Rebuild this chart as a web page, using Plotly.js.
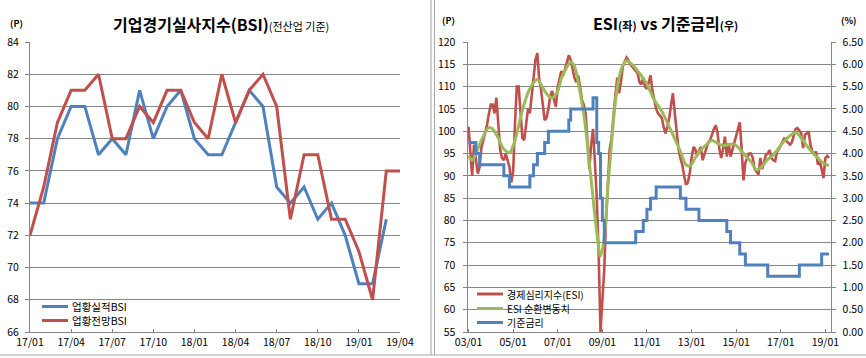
<!DOCTYPE html>
<html>
<head>
<meta charset="utf-8">
<script src="https://cdn.plot.ly/plotly-3.0.1.min.js"></script>
<style>
html,body{margin:0;padding:0;background:#fff;}
#chart{width:866px;height:358px;}
</style>
</head>
<body>
<div id="chart"></div>
<script>
// ---------- Left chart: 기업경기실사지수(BSI) ----------
const bsiMonths = ['17/01','17/02','17/03','17/04','17/05','17/06','17/07','17/08','17/09','17/10','17/11','17/12',
                   '18/01','18/02','18/03','18/04','18/05','18/06','18/07','18/08','18/09','18/10','18/11','18/12',
                   '19/01','19/02','19/03','19/04'];
const bsiTickLabels = ['17/01','17/04','17/07','17/10','18/01','18/04','18/07','18/10','19/01','19/04'];
const bsiActual  = [74,74,78,80,80,77,78,77,81,78,80,81,78,77,77,79,81,80,75,74,75,73,74,72,69,69,73];
const bsiOutlook = [72,75,79,81,81,82,78,78,80,79,81,81,79,78,82,79,81,82,80,73,77,77,73,73,71,68,76,76];
const bsiNames = ['업황실적BSI', '업황전망BSI'];

// ---------- Right chart: ESI vs 기준금리 ----------
const esiStart = '2003-01';
const esi = [
  101,95,90,97,93,90.5,92,96.5,98,99.5,101.5,104,
  106,106,104,107.5,101,96,94,93.5,95,93.5,92,88.5,
  91,102,110,110,103,98.5,98,102,105,104,108,112,
  116,117.5,112,109.5,106,102.5,103,105,108,109,107,105.5,
  110,112,113.5,112.5,114,115.5,117,116,113.5,112,111,112.5,
  110,107,106,104,98,91.5,97,100.5,93,85,72.5,55,
  62,69,80,89,96,98.5,104,108,112,108.5,111,114.5,
  115.5,116.5,116,115,114.5,114,113.5,113,111,110.5,112,110,
  109.5,111,112.5,109,107,105,104,103.5,103,101,99.5,101,
  103,106,108.5,104,100,96,94,92.5,90,88,88.5,90.5,
  94,96.5,96,94.5,95.5,96.5,93.5,95,96.5,97.5,98,99.5,
  100.5,101.3,99.8,96,94,96,98.8,94.3,97.3,94.3,96,97.5,
  99,101,102,96,89,93,94,95,95,94,91.5,91,
  90.3,94,91.5,93,94.7,95,95.8,94,93.5,93.3,95.5,96,
  97,98,98.5,97.8,97.5,97,97.5,99,100.5,100.7,100,99.6,
  96.2,99.2,99.5,100,97,95.5,94.7,95.5,92.5,93.3,91.5,89.5,
  94,94.5,94
];
const esiCycleDates = ['2003-01','2003-03','2003-05','2003-08','2003-12','2004-02','2004-05','2004-08','2004-11',
  '2005-02','2005-05','2005-08','2005-11','2006-02','2006-05','2006-08','2006-10','2007-01','2007-03','2007-06',
  '2007-08','2007-10','2007-12','2008-03','2008-05','2008-08','2008-10','2008-12','2009-02','2009-04','2009-06',
  '2009-08','2009-10','2009-12','2010-02','2010-05','2010-09','2011-01','2011-05','2011-09','2012-01','2012-04',
  '2012-07','2012-10','2012-12','2013-03','2013-06','2013-09','2013-12','2014-03','2014-06','2014-09','2014-12',
  '2015-03','2015-06','2015-09','2015-12','2016-03','2016-06','2016-09','2016-12','2017-03','2017-06','2017-09',
  '2017-12','2018-03','2018-06','2018-09','2018-12','2019-03'];
const esiCycle = [94.5,93.5,95,98,100.8,100.5,98.5,96,95.2,
  98,103,107.5,110.3,111.6,109.7,107.9,107.5,109,111.8,114.4,
  115.5,114.5,111,104,97,85,77.5,72,76,87.5,97.5,
  106.5,112,114.8,115.8,115,113,110.5,107,104.5,101,98.3,
  95.5,92.5,92.2,94,95.8,97,97.9,97.3,96.8,97,97.1,
  96,94.5,93.2,91.3,92.2,93.7,94.7,96.3,97.8,99,99.7,
  98.5,96.8,95.3,94,92.8,92.3];
const rateDates = ['2003-01','2003-05','2003-07','2004-08','2004-11','2005-10','2005-12','2006-02','2006-06',
  '2006-08','2007-07','2007-08','2008-08','2008-10','2008-11','2008-12','2009-01','2009-02','2010-07','2010-11',
  '2011-01','2011-03','2011-06','2012-07','2012-10','2013-05','2014-08','2014-10','2015-03','2015-06','2016-06',
  '2017-11','2018-11','2019-03'];
const rateValues = [4.25,4.00,3.75,3.50,3.25,3.50,3.75,4.00,4.25,
  4.50,4.75,5.00,5.25,4.25,4.00,3.00,2.50,2.00,2.25,2.50,
  2.75,3.00,3.25,3.00,2.75,2.50,2.25,2.00,1.75,1.50,1.25,
  1.50,1.75,1.75];
const rightNames = ['경제심리지수(ESI)', 'ESI 순환변동치', '기준금리'];

// monthly x values for ESI
const esiDates = esi.map((_, i) => {
  const y0 = parseInt(esiStart.slice(0,4)), m0 = parseInt(esiStart.slice(5,7)) - 1;
  const t = m0 + i; const yy = y0 + Math.floor(t/12); const mm = t % 12 + 1;
  return yy + '-' + String(mm).padStart(2,'0') + '-01';
});

const W = 866, H = 358;
const px = x => x / W;
const py = y => 1 - y / H;

const BLUE = '#4F81BD', RED = '#C0504D', GREEN = '#9BBB59', GRID = '#868686';
const FONT = 'Noto Sans CJK KR, Noto Sans, sans-serif';

const traces = [
  {x: bsiMonths.slice(0, bsiActual.length), y: bsiActual, name: bsiNames[0], type: 'scatter', mode: 'lines',
   line: {color: BLUE, width: 3}, xaxis: 'x', yaxis: 'y'},
  {x: bsiMonths, y: bsiOutlook, name: bsiNames[1], type: 'scatter', mode: 'lines',
   line: {color: RED, width: 3}, xaxis: 'x', yaxis: 'y'},
  {x: esiDates, y: esi, name: rightNames[0], type: 'scatter', mode: 'lines',
   line: {color: RED, width: 2.6}, xaxis: 'x2', yaxis: 'y2'},
  {x: esiCycleDates, y: esiCycle, name: rightNames[1], type: 'scatter', mode: 'lines',
   line: {color: GREEN, width: 3, shape: 'spline', smoothing: 1}, xaxis: 'x2', yaxis: 'y2'},
  {x: rateDates, y: rateValues, name: rightNames[2], type: 'scatter', mode: 'lines',
   line: {color: BLUE, width: 3, shape: 'hv'}, xaxis: 'x2', yaxis: 'y3'}
];

const tickFont = {family: FONT, size: 10.5, color: '#000'};
const yDom = [py(332), py(42)];

// legend keys (drawn as layout items so spacing matches the original)
const legendItems = [
  {color: BLUE, name: bsiNames[0], x: 42, y: 306.5, size: 10.5},
  {color: RED, name: bsiNames[1], x: 42, y: 320.5, size: 10.5},
  {color: RED, name: rightNames[0], x: 477, y: 294, size: 10},
  {color: GREEN, name: rightNames[1], x: 477, y: 308.5, size: 10},
  {color: BLUE, name: rightNames[2], x: 477, y: 322.5, size: 10}
];
const legendShapes = legendItems.map(it => ({type: 'line', xref: 'paper', yref: 'paper',
  x0: px(it.x), x1: px(it.x + 26), y0: py(it.y), y1: py(it.y), line: {color: it.color, width: 3}}));
const legendTexts = legendItems.map(it => ({xref: 'paper', yref: 'paper', x: px(it.x + 29), y: py(it.y),
  xanchor: 'left', yanchor: 'middle', showarrow: false, text: it.name, borderpad: 0,
  font: {family: FONT, size: it.size, color: '#000'}}));

const layout = {
  width: W, height: H,
  margin: {l: 0, r: 0, t: 0, b: 0},
  paper_bgcolor: '#fff', plot_bgcolor: 'rgba(0,0,0,0)',
  font: {family: FONT, size: 11, color: '#000'},
  showlegend: false,
  xaxis: {domain: [px(30), px(400)], type: 'category', range: [0, 27],
    tickvals: bsiTickLabels, ticktext: bsiTickLabels, tickfont: tickFont,
    showline: true, linecolor: GRID, linewidth: 1, showgrid: false, zeroline: false,
    ticks: 'inside', ticklen: 3, tickcolor: GRID, anchor: 'y'},
  yaxis: {domain: yDom, range: [66, 84], dtick: 2, tickfont: tickFont,
    showline: true, linecolor: GRID, linewidth: 1, showgrid: true, gridcolor: GRID, gridwidth: 1,
    zeroline: false, ticks: 'outside', ticklen: 4, tickcolor: GRID, anchor: 'x', ticklabelstandoff: 4},
  xaxis2: {domain: [px(467.5), px(830.5)], type: 'date', range: ['2002-12-15', '2019-03-26'],
    tick0: '2003-01-01', dtick: 'M24', tickformat: '%y/%m', tickfont: tickFont,
    showline: true, linecolor: GRID, linewidth: 1, showgrid: false, zeroline: false,
    ticks: 'inside', ticklen: 3, tickcolor: GRID, anchor: 'y2'},
  yaxis2: {domain: yDom, range: [55, 120], dtick: 5, tickfont: tickFont,
    showline: true, linecolor: GRID, linewidth: 1, showgrid: true, gridcolor: GRID, gridwidth: 1,
    zeroline: false, ticks: 'outside', ticklen: 4, tickcolor: GRID, anchor: 'x2', ticklabelstandoff: 5},
  yaxis3: {domain: yDom, range: [0, 6.5], dtick: 0.5, tickformat: '.2f', tickfont: tickFont,
    overlaying: 'y2', side: 'right', anchor: 'x2',
    showline: true, linecolor: GRID, linewidth: 1, showgrid: false, zeroline: false,
    ticks: 'outside', ticklen: 4, tickcolor: GRID, ticklabelstandoff: 5},
  annotations: [
    {xref: 'paper', yref: 'paper', x: px(221), y: py(24), xanchor: 'center', yanchor: 'middle', showarrow: false,
     text: '<b>기업경기실사지수(BSI)</b><span style="font-size:11px">(전산업 기준)</span>',
     font: {family: FONT, size: 16, color: '#000'}},
    {xref: 'paper', yref: 'paper', x: px(665), y: py(23), xanchor: 'center', yanchor: 'middle', showarrow: false,
     text: '<b>ESI<span style="font-size:11px">(좌)</span> vs 기준금리<span style="font-size:11px">(우)</span></b>',
     font: {family: FONT, size: 16, color: '#000'}},
    {xref: 'paper', yref: 'paper', x: px(16), y: py(23), xanchor: 'center', yanchor: 'middle', showarrow: false,
     text: '<b>(P)</b>', font: {family: FONT, size: 9, color: '#000'}},
    {xref: 'paper', yref: 'paper', x: px(449), y: py(21), xanchor: 'center', yanchor: 'middle', showarrow: false,
     text: '<b>(P)</b>', font: {family: FONT, size: 9, color: '#000'}},
    {xref: 'paper', yref: 'paper', x: px(848), y: py(21), xanchor: 'center', yanchor: 'middle', showarrow: false,
     text: '<b>(%)</b>', font: {family: FONT, size: 9, color: '#000'}}
  ].concat(legendTexts),
  shapes: [
    {type: 'line', xref: 'paper', yref: 'paper', x0: px(431), x1: px(431), y0: py(0), y1: py(355), line: {color: '#A6A6A6', width: 1}},
    {type: 'line', xref: 'paper', yref: 'paper', x0: px(434.5), x1: px(434.5), y0: py(0), y1: py(355), line: {color: '#A6A6A6', width: 1}},
    {type: 'line', xref: 'paper', yref: 'paper', x0: 0, x1: 1, y0: py(355), y1: py(355), line: {color: '#A6A6A6', width: 1}}
  ].concat(legendShapes)
};

Plotly.newPlot('chart', traces, layout, {displayModeBar: false, staticPlot: true});
</script>
</body>
</html>
